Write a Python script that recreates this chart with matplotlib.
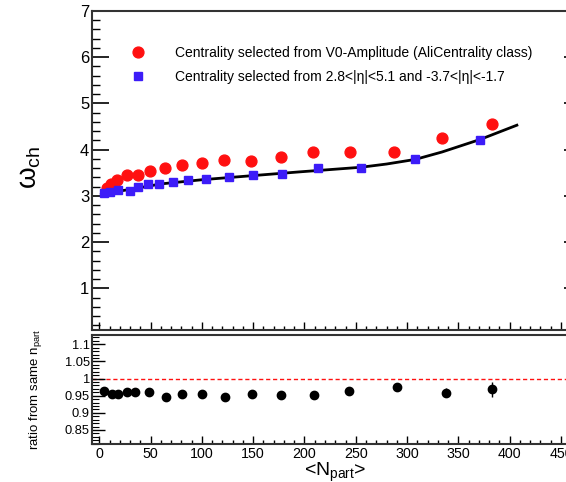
import matplotlib
matplotlib.use("Agg")
import matplotlib.pyplot as plt
from matplotlib.ticker import MultipleLocator, FixedLocator
from matplotlib.lines import Line2D

plt.rcParams['font.family'] = ['Liberation Sans', 'DejaVu Sans']
plt.rcParams['mathtext.fontset'] = 'custom'
plt.rcParams['mathtext.rm'] = 'Liberation Sans'
plt.rcParams['mathtext.it'] = 'Liberation Sans'
plt.rcParams['mathtext.bf'] = 'Liberation Sans:bold'

# ---- data ----
red_npart = [7.2, 11.4, 17.3, 27.3, 37.7, 49.9, 64.0, 80.6, 99.8, 122.0,
             147.6, 176.8, 208.6, 244.3, 287.5, 334.0, 382.5]
red_omega = [3.17, 3.25, 3.35, 3.45, 3.46, 3.53, 3.60, 3.67, 3.71, 3.78,
             3.76, 3.85, 3.94, 3.94, 3.96, 4.25, 4.56]

blue_npart = [4.6, 10.9, 18.5, 29.9, 38.0, 47.5, 58.5, 71.5, 86.7, 104.0,
              126.0, 150.0, 178.0, 213.5, 255.0, 307.5, 371.0]
blue_omega = [3.06, 3.08, 3.13, 3.11, 3.20, 3.25, 3.25, 3.31, 3.34, 3.37,
              3.41, 3.45, 3.48, 3.61, 3.61, 3.79, 4.22]

fit_npart = [2, 15, 30, 60, 100, 150, 195, 255, 280, 308, 334, 371, 407]
fit_omega = [3.03, 3.09, 3.14, 3.26, 3.35, 3.44, 3.52, 3.62, 3.69, 3.79, 3.95, 4.22, 4.53]

ratio_npart = [4.9, 12.1, 18.5, 27.3, 34.8, 48.4, 64.7, 80.3, 99.8, 122.5,
               148.5, 177.0, 209.6, 243.4, 289.9, 337.6, 382.5]
ratio_val = [0.963, 0.956, 0.956, 0.960, 0.960, 0.960, 0.947, 0.954, 0.954, 0.947,
             0.956, 0.951, 0.951, 0.963, 0.975, 0.959, 0.969]
ratio_err = [0.002, 0.002, 0.002, 0.002, 0.002, 0.002, 0.002, 0.002, 0.002, 0.002,
             0.003, 0.003, 0.003, 0.004, 0.006, 0.012, 0.022]

legend_labels = ["Centrality selected from V0-Amplitude (AliCentrality class)",
                 "Centrality selected from 2.8<|\u03b7|<5.1 and -3.7<|\u03b7|<-1.7"]

RED = '#ff1010'
BLUE = '#3c1cf8'
W, H = 566, 482

fig = plt.figure(figsize=(W / 100, H / 100), dpi=100)
x0, x1 = 92, 581
ax1 = fig.add_axes([x0 / W, (H - 330) / H, (x1 - x0) / W, (330 - 11) / H])
ax2 = fig.add_axes([x0 / W, (H - 444) / H, (x1 - x0) / W, (444 - 335) / H])

xlim = (-7.1, 469.5)

# ---- top panel ----
ax1.plot(fit_npart, fit_omega, color='black', lw=2.0, zorder=2)
ax1.plot(red_npart, red_omega, 'o', color=RED, ms=7.8, mec=RED, zorder=3)
ax1.plot(blue_npart, blue_omega, 's', color=BLUE, ms=5.5, mec=BLUE, zorder=3)
ax1.set_xlim(*xlim)
ax1.set_ylim(0.1, 7.0)
ax1.yaxis.set_major_locator(FixedLocator([1, 2, 3, 4, 5, 6, 7]))
ax1.yaxis.set_minor_locator(MultipleLocator(0.2))
ax1.xaxis.set_major_locator(MultipleLocator(50))
ax1.xaxis.set_minor_locator(MultipleLocator(10))
ax1.tick_params(axis='y', which='major', direction='in', length=12, width=1.2,
                labelsize=12, pad=2, left=True, right=True)
ax1.tick_params(axis='y', which='minor', direction='in', length=5.8, width=1.0,
                left=True, right=True)
ax1.tick_params(axis='x', which='major', direction='in', length=6, width=1.0,
                labelbottom=False, top=False)
ax1.tick_params(axis='x', which='minor', direction='in', length=3, width=1.0, top=False)
for s in ax1.spines.values():
    s.set_linewidth(1.5)
    s.set_color('#333333')

handles = [Line2D([], [], ls='none', marker='o', color=RED, ms=7.8),
           Line2D([], [], ls='none', marker='s', color=BLUE, ms=5.5)]
fig.legend(handles, legend_labels, loc='upper left',
           bbox_to_anchor=(131.0 / W, 1 - 45.5 / H), frameon=False,
           fontsize=10, handlelength=1.0, handletextpad=2.16, borderpad=0,
           borderaxespad=0, labelspacing=0.76)

fig.text(30 / W, 1 - 167 / H, r'$\mathrm{\omega_{ch}}$', rotation=90,
         fontsize=20, ha='center', va='center')

# ---- bottom panel ----
ax2.axhline(1.0, color=RED, lw=1.0, ls=(0, (3, 2)), zorder=1)
ax2.errorbar(ratio_npart, ratio_val, yerr=ratio_err, fmt='o', color='black',
             ms=6, elinewidth=1.0, capsize=0, zorder=3)
ax2.set_xlim(*xlim)
ax2.set_ylim(0.809, 1.127)
ax2.yaxis.set_major_locator(FixedLocator([0.85, 0.9, 0.95, 1.0, 1.05, 1.1]))
ax2.yaxis.set_minor_locator(MultipleLocator(0.01))
ax2.set_yticklabels(['0.85', '0.9', '0.95', '1', '1.05', '1.1'])
ax2.xaxis.set_major_locator(MultipleLocator(50))
ax2.xaxis.set_minor_locator(MultipleLocator(10))
ax2.tick_params(axis='y', which='major', direction='in', length=9.5, width=1.0,
                labelsize=9.3, pad=1.5, right=True)
ax2.tick_params(axis='y', which='minor', direction='in', length=5, width=0.8, right=True)
ax2.tick_params(axis='x', which='major', direction='in', length=6, width=1.0,
                labelsize=10.3, pad=2.0, top=False)
ax2.tick_params(axis='x', which='minor', direction='in', length=3, width=1.0, top=False)
for s in ax2.spines.values():
    s.set_linewidth(1.5)
    s.set_color('#333333')

fig.text(335 / W, 1 - 472 / H, r'<N$_{\mathrm{part}}$>', fontsize=14,
         ha='center', va='center')
fig.text(35 / W, 1 - 389 / H, r'ratio from same n$_{\mathrm{part}}$', rotation=90,
         fontsize=9.5, ha='center', va='center')

fig.savefig('out.png', dpi=100)
